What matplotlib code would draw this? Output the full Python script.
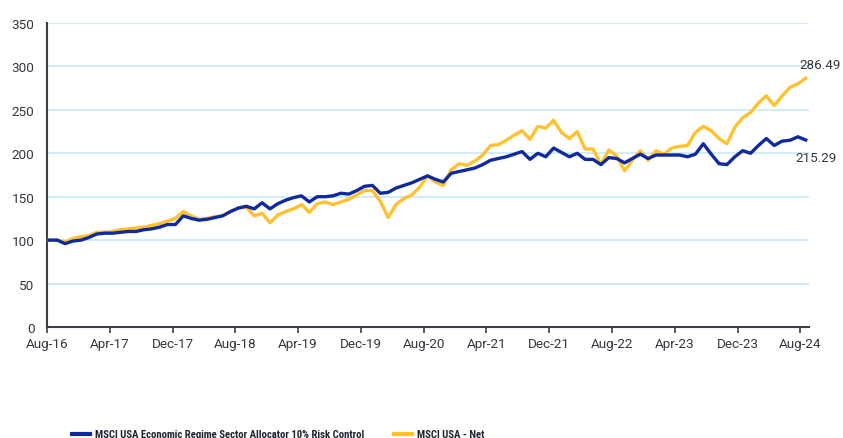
import matplotlib
matplotlib.use("Agg")
import matplotlib.pyplot as plt
from matplotlib import font_manager as fm
import numpy as np
import glob
import os

tick_labels = ["Aug-16", "Apr-17", "Dec-17", "Aug-18", "Apr-19", "Dec-19", "Aug-20",
               "Apr-21", "Dec-21", "Aug-22", "Apr-23", "Dec-23", "Aug-24"]

strategy_name = "MSCI USA Economic Regime Sector Allocator 10% Risk Control"
benchmark_name = "MSCI USA - Net"

# Monthly index levels, Aug-16 .. Aug-24 (97 points)
strategy = [100, 100, 96, 99, 100, 103, 107, 108, 108, 109, 110, 110, 112, 113, 115, 118,
            118, 128, 125, 123, 124, 126, 128, 133, 137, 139, 136, 143, 136, 142, 146, 149,
            151, 144, 150, 150, 151, 154, 153, 157, 162, 163, 154, 155, 160, 163, 166, 170,
            174, 170, 167, 177, 179, 181, 183, 187, 192, 194, 196, 199, 202, 193, 200, 196,
            206, 201, 196, 200, 193, 193, 187, 195, 194, 189, 194, 199, 194, 198, 198, 198,
            198, 196, 199, 211, 199, 188, 187, 196, 203, 200, 209, 217, 209, 214, 215, 219,
            215.29]

benchmark = [100, 100, 98, 102, 104, 105, 109, 109, 110, 112, 113, 114, 115, 117, 119, 122,
             125, 133, 128, 124, 125, 127, 128, 133, 137, 138, 128, 131, 120, 129, 133, 136,
             141, 132, 142, 144, 141, 144, 147, 152, 157, 157, 145, 126, 141, 148, 152, 161,
             174, 167, 163, 181, 188, 186, 191, 198, 209, 210, 215, 221, 226, 216, 231, 229,
             238, 224, 217, 225, 205, 205, 187, 204, 197, 180, 192, 203, 192, 203, 199, 206,
             208, 209, 224, 231, 226, 217, 211, 230, 241, 247, 258, 266, 255, 266, 276, 280,
             286.49]

BLUE = "#0F2A9E"
YELLOW = "#FFC12E"
GRID = "#C9E7F8"
TXT = "#333840"

plt.rcParams['font.family'] = ['Roboto', 'DejaVu Sans']

# --- pick a condensed bold font for the legend if one is installed ---
font_files = set(f.fname for f in fm.fontManager.ttflist)
for pat in ("/usr/share/fonts/**/*.ttf", "/usr/share/fonts/**/*.otf",
            "/usr/local/share/fonts/**/*.ttf", os.path.expanduser("~/.fonts/**/*.ttf")):
    font_files.update(glob.glob(pat, recursive=True))
prefs = ["robotocondensed-bold", "roboto_condensed-bold", "liberationsansnarrow-bold",
         "dejavusanscondensed-bold", "opensans_condensed-bold", "opensanscondensed-bold",
         "notosans-condensedbold", "notosanscondensed-bold"]
chosen = None
lower_map = {os.path.basename(p).lower().replace(" ", ""): p for p in font_files}
for pref in prefs:
    for k, p in lower_map.items():
        if k.startswith(pref):
            chosen = p
            break
    if chosen:
        break
if chosen is None:
    for k, p in lower_map.items():
        if ("condensed" in k or "narrow" in k) and "bold" in k and "italic" not in k:
            chosen = p
            break

fig = plt.figure(figsize=(8.43, 4.39), dpi=100)
ax = fig.add_axes([47/843, 1 - 328/439, (809-47)/843, (328-24)/439])

n = len(strategy)
x = 0.3 + np.arange(n) * 1.004

ax.plot(x, benchmark, color=YELLOW, lw=2.4, solid_joinstyle='round', label=benchmark_name, zorder=3)
ax.plot(x, strategy, color=BLUE, lw=2.4, solid_joinstyle='round', label=strategy_name, zorder=4)

ax.set_xlim(0, 97.1)
ax.set_ylim(0, 350)
ax.set_yticks(np.arange(0, 351, 50))
ax.set_xticks(np.arange(0, 97, 8))
ax.set_xticklabels(tick_labels)

for v in range(50, 351, 50):
    ax.axhline(v, color=GRID, lw=1.2, zorder=1)

for s in ["top", "right"]:
    ax.spines[s].set_visible(False)
for s in ["left", "bottom"]:
    ax.spines[s].set_color("#3a3f47")
    ax.spines[s].set_linewidth(1.5)
ax.spines["bottom"].set_zorder(5)

ax.tick_params(axis='y', length=0, pad=9, labelsize=9.7, labelcolor=TXT)
ax.tick_params(axis='x', length=4, width=1.2, color="#3a3f47", pad=3, labelsize=9.7, labelcolor=TXT, direction='out')

ax.annotate(f"{benchmark[-1]:.2f}", xy=(x[-1], benchmark[-1]), xytext=(-6, 14),
            textcoords='offset pixels', ha='left', va='center', fontsize=9.7, color=TXT,
            annotation_clip=False)
ax.annotate(f"{strategy[-1]:.2f}", xy=(x[-1], strategy[-1]), xytext=(-10, -17),
            textcoords='offset pixels', ha='left', va='center', fontsize=9.7, color=TXT,
            annotation_clip=False)

# legend font: a condensed face, sized a bit larger than the width-fit so the
# letter height comes closer to the reference
if chosen:
    prop = fm.FontProperties(fname=chosen, size=9)
else:
    prop = fm.FontProperties(family=['Roboto', 'DejaVu Sans'], weight='bold', size=9)
renderer = fig.canvas.get_renderer()
tmp = fig.text(0, 0, strategy_name, fontproperties=prop)
w = tmp.get_window_extent(renderer).width
tmp.remove()
size = float(np.clip(9 * 270 / w, 7, 10))
gap = 30
prop.set_size(size)
px_per_em = size * 100 / 72

handles, labels = ax.get_legend_handles_labels()
leg = fig.legend(handles[::-1], labels[::-1], loc='center left', bbox_to_anchor=(72/843, 3.5/439),
                 ncol=2, frameon=False, borderpad=0, borderaxespad=0,
                 handlelength=18/px_per_em, handletextpad=5/px_per_em,
                 columnspacing=gap/px_per_em, prop=prop)
for t in leg.get_texts():
    t.set_color("#1f2530")
for h in leg.legend_handles:
    h.set_linewidth(3)

fig.savefig("out.png", dpi=100)
